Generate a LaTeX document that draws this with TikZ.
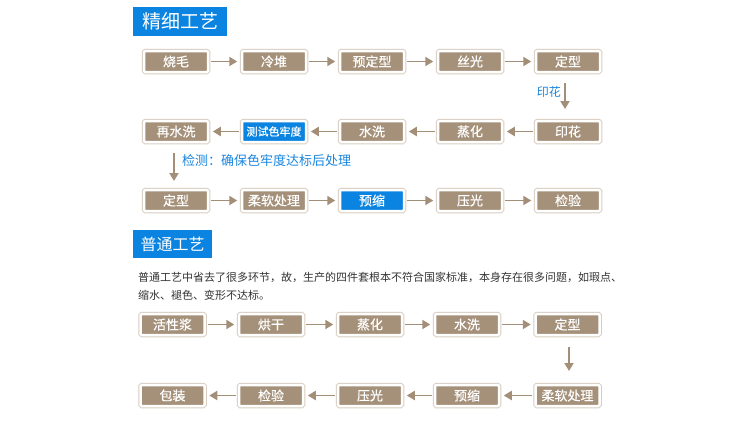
\documentclass[tikz,border=0pt]{standalone}
\usepackage{fontspec}
\setmainfont{Noto Sans CJK SC}
\newfontfamily\boxfont[FakeBold=0.6]{Noto Sans CJK SC}
\usetikzlibrary{arrows.meta}
\definecolor{taupe}{HTML}{A5917A}
\definecolor{framecol}{HTML}{D8CCBF}
\definecolor{arrcol}{HTML}{A38E77}
\definecolor{hblue}{HTML}{0A84E0}
\definecolor{lblue}{HTML}{1A86DF}
\definecolor{txtcol}{HTML}{333333}
\tikzset{
  box/.style={preaction={draw=framecol,line width=4.5pt},
    fill=taupe, draw=white, line width=2.5pt, rounded corners=1.2pt,
    minimum width=64pt, minimum height=21pt, inner sep=0pt,
    text=white, font=\boxfont\fontsize{13}{15}\selectfont},
  bluebox/.style={box, fill=hblue},
  header/.style={fill=hblue, text=white, inner sep=0pt, anchor=north west},
  flow/.style={draw=arrcol, line width=1.8pt, -{Triangle[length=8pt,width=9pt]},
    shorten <=2.2pt, shorten >=3.5pt},
  vflow/.style={draw=arrcol, line width=1.8pt, -{Triangle[length=8pt,width=9pt]}},
  lbl/.style={text=lblue, inner sep=0pt},
}
\begin{document}
\begin{tikzpicture}[x=1pt,y=-1pt]
\useasboundingbox[fill=white] (0,0) rectangle (750,431);
% headers
\node[header, minimum width=94pt, minimum height=29pt, font=\fontsize{19}{21}\selectfont] (h1) at (133,7) {精细工艺};
\node[header, minimum width=79pt, minimum height=28pt, font=\fontsize{16}{18}\selectfont] (h2) at (133,230) {普通工艺};
% row 1
\node[box] (a1) at (176,61.5) {烧毛};
\node[box] (a2) at (274,61.5) {冷堆};
\node[box] (a3) at (372,61.5) {预定型};
\node[box] (a4) at (470,61.5) {丝光};
\node[box] (a5) at (568,61.5) {定型};
% row 2
\node[box] (b1) at (176,131.5) {再水洗};
\node[bluebox, font=\boxfont\fontsize{11}{13}\selectfont] (b2) at (274,131.5) {测试色牢度};
\node[box] (b3) at (372,131.5) {水洗};
\node[box] (b4) at (470,131.5) {蒸化};
\node[box] (b5) at (568,131.5) {印花};
% row 3
\node[box] (c1) at (176,200.5) {定型};
\node[box] (c2) at (274,200.5) {柔软处理};
\node[bluebox] (c3) at (372,200.5) {预缩};
\node[box] (c4) at (470,200.5) {压光};
\node[box] (c5) at (568,200.5) {检验};
% row 4
\node[box] (d1) at (172.5,324.5) {活性浆};
\node[box] (d2) at (271,324.5) {烘干};
\node[box] (d3) at (370,324.5) {蒸化};
\node[box] (d4) at (467,324.5) {水洗};
\node[box] (d5) at (567.5,324.5) {定型};
% row 5
\node[box] (e1) at (172.5,395.5) {包装};
\node[box] (e2) at (271,395.5) {检验};
\node[box] (e3) at (370,395.5) {压光};
\node[box] (e4) at (467,395.5) {预缩};
\node[box] (e5) at (567.5,395.5) {柔软处理};
% horizontal arrows
\draw[flow] (a1) -- (a2);
\draw[flow] (a2) -- (a3);
\draw[flow] (a3) -- (a4);
\draw[flow] (a4) -- (a5);
\draw[flow] (b5) -- (b4);
\draw[flow] (b4) -- (b3);
\draw[flow] (b3) -- (b2);
\draw[flow] (b2) -- (b1);
\draw[flow] (c1) -- (c2);
\draw[flow] (c2) -- (c3);
\draw[flow] (c3) -- (c4);
\draw[flow] (c4) -- (c5);
\draw[flow] (d1) -- (d2);
\draw[flow] (d2) -- (d3);
\draw[flow] (d3) -- (d4);
\draw[flow] (d4) -- (d5);
\draw[flow] (e5) -- (e4);
\draw[flow] (e4) -- (e3);
\draw[flow] (e3) -- (e2);
\draw[flow] (e2) -- (e1);
% vertical arrows
\coordinate (v1s) at (565,83);
\coordinate (v1e) at (565,109);
\draw[vflow] (v1s) -- (v1e);
\node[lbl, anchor=east, font=\fontsize{12}{14}\selectfont] (l1) at (561,92) {印花};
\coordinate (v2s) at (174,153);
\coordinate (v2e) at (174,181);
\draw[vflow] (v2s) -- (v2e);
\node[lbl, anchor=west, font=\fontsize{13}{15}\selectfont] (l2) at (182,161) {检测：确保色牢度达标后处理};
\coordinate (v3s) at (569,347);
\coordinate (v3e) at (569,371);
\draw[vflow] (v3s) -- (v3e);
% paragraph
\node[anchor=west, inner sep=0pt, text=txtcol, font=\fontsize{11}{13}\selectfont] (p1) at (138,277) {普通工艺中省去了很多环节，故，生产的四件套根本不符合国家标准，本身存在很多问题，如瑕点、};
\node[anchor=west, inner sep=0pt, text=txtcol, font=\fontsize{11}{13}\selectfont] (p2) at (138,295) {缩水、褪色、变形不达标。};
\end{tikzpicture}
\end{document}
